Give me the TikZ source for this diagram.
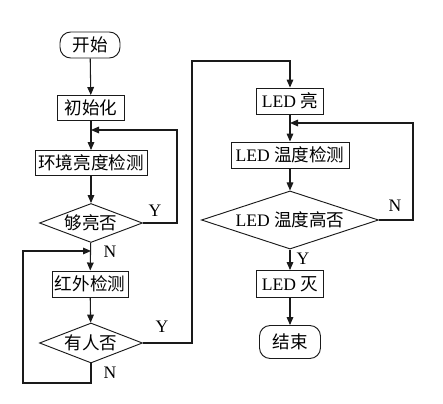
\documentclass[tikz,border=0pt]{standalone}
\usepackage{fontspec}
\setmainfont{Liberation Serif}
\newfontfamily\cjk{Noto Sans CJK SC}
\usepackage{tikz}
\usetikzlibrary{
  positioning, arrows.meta, shapes.geometric, calc
}
\definecolor{flowInk}{HTML}{1A1A1A}
\tikzset{
  flowline/.style={draw=flowInk, line width=0.9pt},
  flowarrow/.style={flowline, -{Triangle[length=2.4mm,width=2mm]}},
  procbox/.style={draw=flowInk, line width=0.8pt, rectangle, inner sep=0pt,
    font=\fontsize{15}{17}\selectfont},
  termbox/.style={procbox, rounded corners=3.2mm},
  askbox/.style={draw=flowInk, line width=0.8pt, diamond, inner sep=0pt,
    shape aspect=2.6, font=\fontsize{15}{17}\selectfont},
  yn/.style={font=\fontsize{15}{17}\selectfont, inner sep=0pt}
}

\begin{document}
\begin{tikzpicture}[x=0.03cm, y=-0.03cm]
    \useasboundingbox (0,0) rectangle (443,404);
    % ---- left column: light check ----
    \node[termbox, minimum width=1.8cm, minimum height=0.78cm]
      (start) at (90,45) {\cjk 开始};
    \node[procbox, minimum width=2.01cm, minimum height=0.75cm]
      (init) at (91,108) {\cjk 初始化};
    \node[procbox, minimum width=3.36cm, minimum height=0.75cm]
      (light) at (91,163) {\cjk 环境亮度检测};
    \node[askbox, minimum width=3.09cm, minimum height=1.17cm]
      (bright) at (91,223) {\cjk 够亮否};
    \node[procbox, minimum width=2.28cm, minimum height=0.78cm]
      (infra) at (90,284) {\cjk 红外检测};
    \node[askbox, minimum width=3.09cm, minimum height=1.2cm]
      (person) at (91,343) {\cjk 有人否};
    % ---- right column: LED control ----
    \node[procbox, minimum width=2.01cm, minimum height=0.78cm]
      (ledon) at (290,101) {LED \cjk 亮};
    \node[procbox, minimum width=3.54cm, minimum height=0.78cm]
      (temp) at (290,155) {LED \cjk 温度检测};
    \node[askbox, minimum width=5.31cm, minimum height=1.38cm]
      (hot) at (290,220) {LED \cjk 温度高否};
    \node[procbox, minimum width=2.01cm, minimum height=0.81cm]
      (ledoff) at (290,284) {LED \cjk 灭};
    \node[termbox, minimum width=1.83cm, minimum height=0.99cm]
      (stop) at (290,342) {\cjk 结束};
    % ---- bend points ----
    \coordinate (brightback) at (177,130);
    \coordinate (brightin) at (91,130);
    \coordinate (nobody) at (23,383);
    \coordinate (infrain) at (91,251);
    \coordinate (toright) at (192,61);
    \coordinate (hotback) at (413,123);
    \coordinate (tempin) at (290,123);
    % ---- straight links ----
    \draw[flowarrow] (start) -- (init);
    \draw[flowarrow] (init) -- (light);
    \draw[flowarrow] (light) -- (bright);
    \draw[flowarrow] (bright) -- (infra);
    \draw[flowarrow] (infra) -- (person);
    \draw[flowarrow] (ledon) -- (temp);
    \draw[flowarrow] (temp) -- (hot);
    \draw[flowarrow] (hot) -- (ledoff);
    \draw[flowarrow] (ledoff) -- (stop);
    % ---- loops ----
    \draw[flowarrow] (bright.east) -| (brightback) -- (brightin);
    \draw[flowarrow] (person.south) |- (nobody) |- (infrain);
    \draw[flowarrow] (person.east) -| (toright) -| (ledon.north);
    \draw[flowarrow] (hot.east) -| (hotback) -- (tempin);
    % ---- Y / N ----
    \node[yn] (yb) at (155,211) {Y};
    \node[yn] (nb) at (110,252) {N};
    \node[yn] (yp) at (162,327) {Y};
    \node[yn] (np) at (110,373) {N};
    \node[yn] (nh) at (395,206) {N};
    \node[yn] (yh) at (303,259) {Y};
\end{tikzpicture}
\end{document}
